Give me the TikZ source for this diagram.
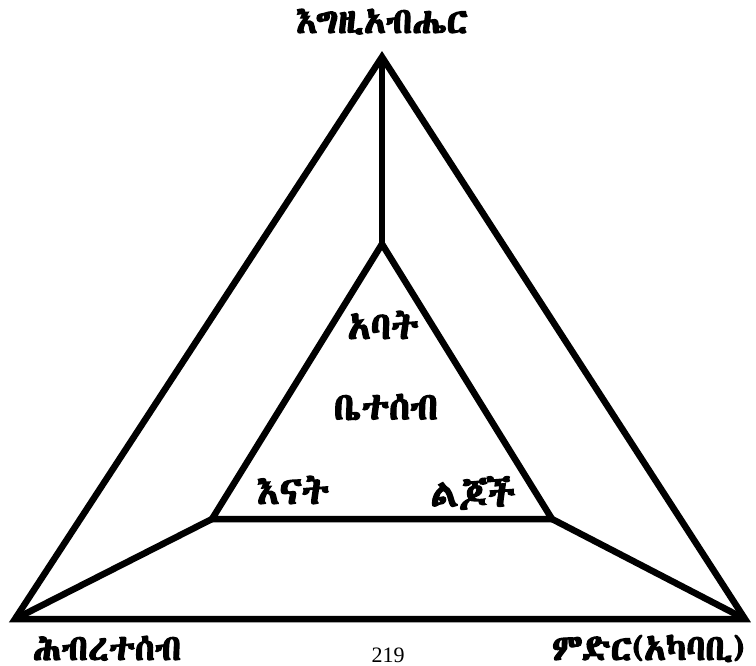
\documentclass[tikz,border=0pt]{standalone}
\usepackage{fontspec}
\newfontfamily\eth[Script=Ethiopic,FakeBold=3.5]{Abyssinica SIL}
\setmainfont{Liberation Serif}
\begin{document}
\begin{tikzpicture}[x=1pt,y=-1pt,
  edge/.style={line width=6.5pt,line join=miter,miter limit=20},
  lbl/.style={font=\eth\fontsize{36}{40}\selectfont,inner sep=0pt,text height=0.75em,text depth=0.05em,anchor=base},
  inlbl/.style={font=\eth\fontsize{38}{40}\selectfont,inner sep=0pt}]
\useasboundingbox (0,0) rectangle (756,666);
\coordinate (T) at (382,57);
\coordinate (L) at (15,619);
\coordinate (R) at (745,619);
\coordinate (t) at (382,244);
\coordinate (l) at (212,519);
\coordinate (r) at (552,519);
\draw[edge] (T) -- (R) -- (L) -- cycle;
\draw[edge] (t) -- (r) -- (l) -- cycle;
\draw[edge] (T) -- (t);
\draw[edge] (l) -- (L);
\draw[edge] (r) -- (R);
\node[lbl] (god) at (382,33) {እግዚአብሔር};
\node[lbl] (soc) at (107,660) {ሕብረተሰብ};
\node[lbl,anchor=base east] (env) at (745,660) {ምድር(አካባቢ)};
\node[inlbl] (fa) at (383,325) {አባት};
\node[inlbl] (fam) at (386,407) {ቤተሰብ};
\node[inlbl] (mo) at (293,490) {እናት};
\node[inlbl] (ch) at (473,493) {ልጆች};
\node[font=\fontsize{22}{24}\selectfont,inner sep=0pt] (pg) at (388,655) {219};
\end{tikzpicture}
\end{document}
